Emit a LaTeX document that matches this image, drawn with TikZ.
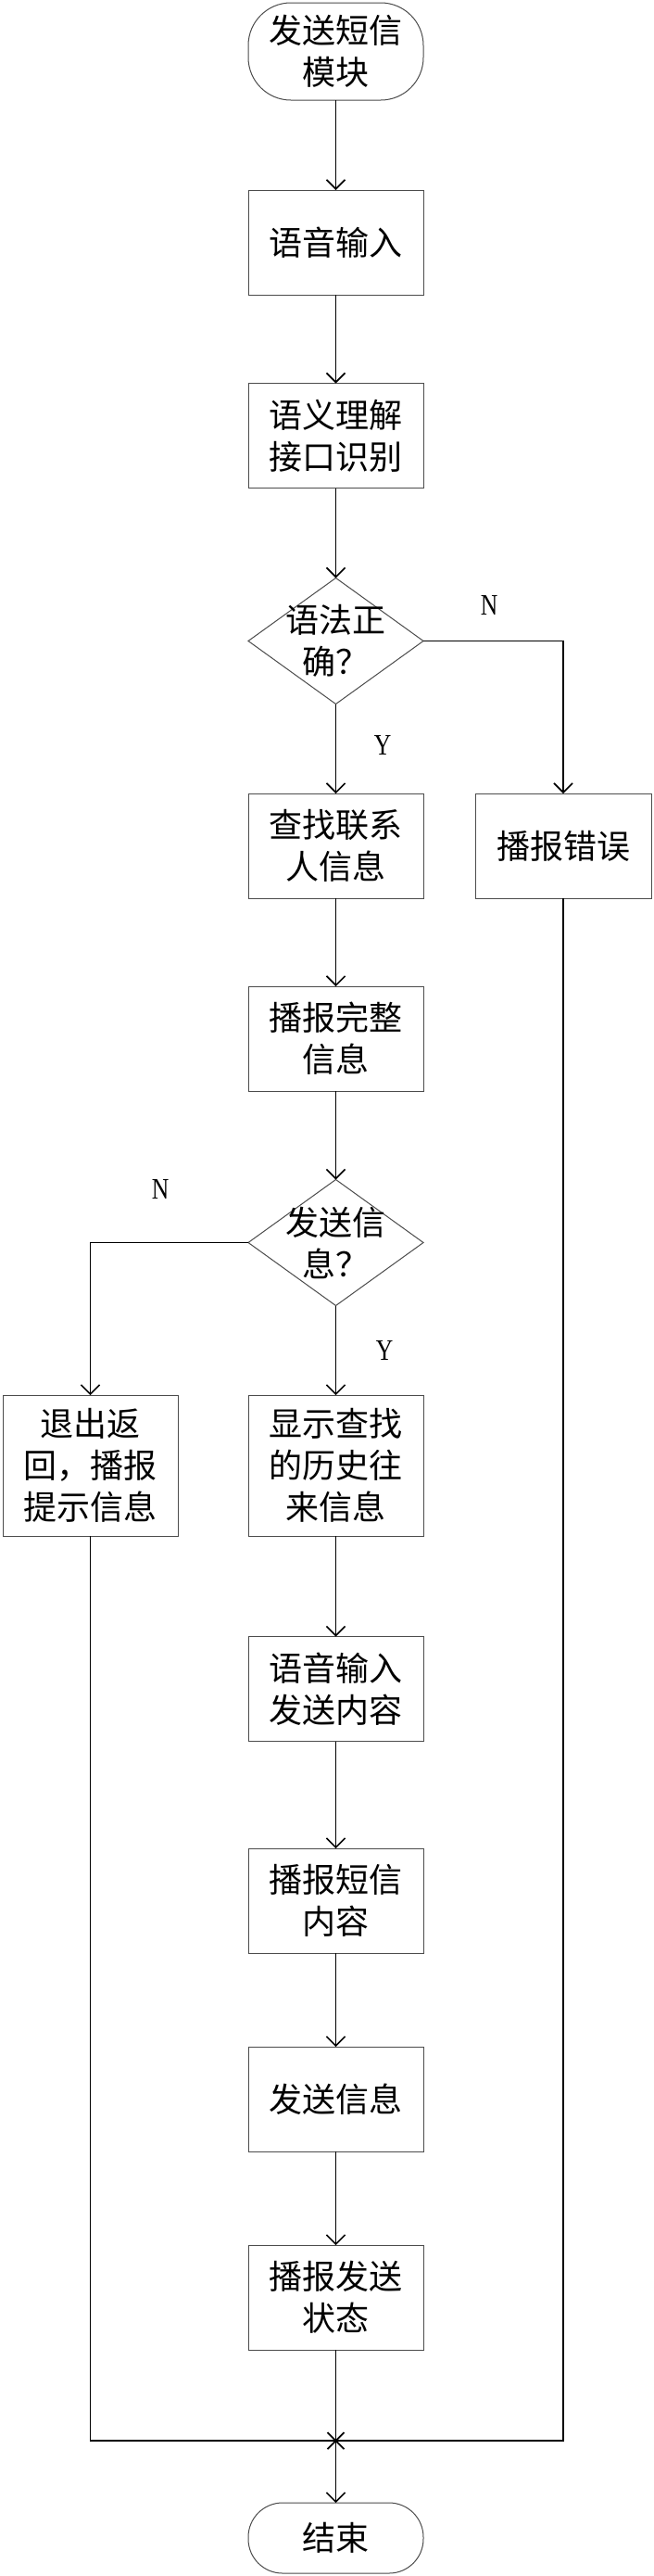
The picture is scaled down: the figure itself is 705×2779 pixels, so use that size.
\documentclass[tikz,border=0pt]{standalone}
\usepackage{fontspec}
\usetikzlibrary{shapes.geometric,arrows.meta}
\newfontfamily\cjk{Noto Sans CJK SC}
\newfontfamily\labfont[FakeStretch=0.8]{Liberation Serif}
\begin{document}
\begin{tikzpicture}[x=1pt,y=-1pt,
  base/.style={draw=black!70,line width=1pt,inner sep=0pt,outer sep=0pt,align=center,
    font=\cjk\fontsize{36}{45}\selectfont,text=black},
  proc/.style={base,rectangle,minimum width=189pt,minimum height=113pt},
  tall/.style={proc,minimum height=152pt},
  dec/.style={base,diamond,minimum width=189pt,minimum height=136pt},
  dtext/.style={inner sep=0pt,align=center,font=\cjk\fontsize{36}{45}\selectfont},
  conn/.style={line width=1.8pt,black},
  arr/.style={conn,-{Straight Barb[length=10pt,width=20pt,line width=1.6pt]}},
  yn/.style={font=\labfont\fontsize{32}{36}\selectfont,inner sep=0pt}
]
\useasboundingbox (0,0) rectangle (705,2779);
\fill[white] (0,0) rectangle (705,2779);

\node[base,rectangle,rounded corners=46pt,minimum width=189pt,minimum height=105pt] (start) at (362.5,55.5) {发送短信\\模块};
\node[proc] (in1) at (362.5,261.5) {语音输入};
\node[proc] (sem) at (362.5,470) {语义理解\\接口识别};
\node[dec] (d1) at (362.5,691.5) {};
\node[dtext] (d1t) at (d1.center) {语法正\\确？};
\node[proc] (find) at (362.5,912.5) {查找联系\\人信息};
\node[proc,minimum width=190pt] (err) at (608,912.5) {播报错误};
\node[proc] (full) at (362.5,1120.5) {播报完整\\信息};
\node[dec] (d2) at (362.5,1340.5) {};
\node[dtext] (d2t) at (d2.center) {发送信\\息？};
\node[tall] (quit) at (97.5,1581) {退出返\\回，播报\\提示信息};
\node[tall] (show) at (362.5,1581) {显示查找\\的历史往\\来信息};
\node[proc] (in2) at (362.5,1822) {语音输入\\发送内容};
\node[proc] (bc) at (362.5,2050.5) {播报短信\\内容};
\node[proc] (send) at (362.5,2264.5) {发送信息};
\node[proc] (bs) at (362.5,2478.5) {播报发送\\状态};
\node[base,rectangle,rounded corners=37pt,minimum width=189pt,minimum height=76pt] (fin) at (362.5,2738) {结束};
\coordinate (mrg) at (362.5,2633);

\node[yn] (n1) at (528,653) {N};
\node[yn] (y1) at (413,804) {Y};
\node[yn] (n2) at (173,1283) {N};
\node[yn] (y2) at (415,1457) {Y};

\draw[arr] (start) -- (in1);
\draw[arr] (in1) -- (sem);
\draw[arr] (sem) -- (d1.north);
\draw[arr] (d1.south) -- (find);
\draw[arr] (d1.east) -| (err.north);
\draw[arr] (find) -- (full);
\draw[arr] (full) -- (d2.north);
\draw[arr] (d2.south) -- (show);
\draw[arr] (d2.west) -| (quit.north);
\draw[arr] (show) -- (in2);
\draw[arr] (in2) -- (bc);
\draw[arr] (bc) -- (send);
\draw[arr] (send) -- (bs);
\draw[arr] (bs) -- (fin);
\draw[conn] (quit.south) |- (mrg) -| (err.south);
\draw[conn] (mrg) +(-9,-9) -- +(9,9) (mrg) +(-9,9) -- +(9,-9);
\end{tikzpicture}
\end{document}
